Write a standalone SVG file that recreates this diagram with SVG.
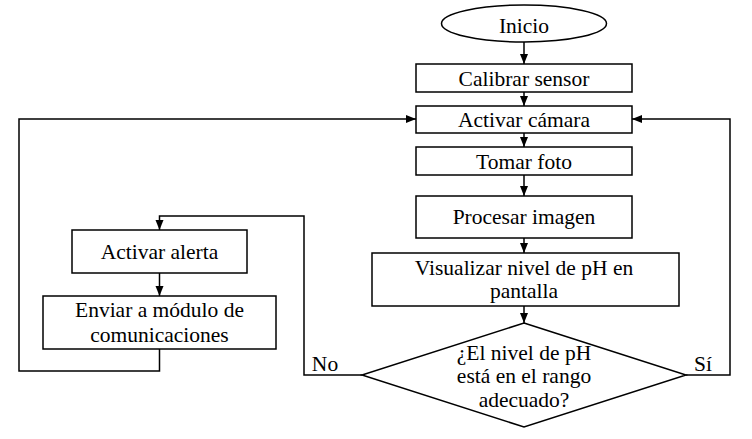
<svg xmlns="http://www.w3.org/2000/svg" width="752" height="439" viewBox="0 0 752 439">
<style>
.n{fill:#fff;stroke:#000;stroke-width:1.5}
.c{fill:none;stroke:#000;stroke-width:1.5}
text{font-family:"Liberation Serif","Times New Roman",serif;font-size:21.5px;fill:#000;text-anchor:middle}
</style>
<defs>
<marker id="ah" viewBox="0 0 10 10" refX="10" refY="5" markerWidth="10" markerHeight="10" markerUnits="userSpaceOnUse" orient="auto">
<path d="M0,1 L10,5 L0,9 Z" fill="#000"/>
</marker>
</defs>
<rect width="752" height="439" fill="#fff"/>
<g id="connectors">
<path class="c" d="M524,42 V64" marker-end="url(#ah)"/>
<path class="c" d="M524,92 V106" marker-end="url(#ah)"/>
<path class="c" d="M524,133 V147" marker-end="url(#ah)"/>
<path class="c" d="M524,175 V196" marker-end="url(#ah)"/>
<path class="c" d="M524,238 V253" marker-end="url(#ah)"/>
<path class="c" d="M524,306 V323" marker-end="url(#ah)"/>
<path class="c" d="M686,375 H730 V119 H632" marker-end="url(#ah)"/>
<path class="c" d="M362,375 H304 V216 H159.5 V230" marker-end="url(#ah)"/>
<path class="c" d="M159.5,273 V296" marker-end="url(#ah)"/>
<path class="c" d="M159.5,349 V371 H19 V119 H416" marker-end="url(#ah)"/>
<text x="325" y="371">No</text>
<text x="703" y="371">Sí</text>
</g>
<g id="inicio">
<ellipse class="n" cx="524" cy="23.5" rx="82.5" ry="18.5"/>
<text x="524" y="33">Inicio</text>
</g>
<g id="calibrar">
<rect class="n" x="416" y="64" width="216" height="28"/>
<text x="524" y="86">Calibrar sensor</text>
</g>
<g id="activar-camara">
<rect class="n" x="416" y="106" width="216" height="27"/>
<text x="524" y="127">Activar cámara</text>
</g>
<g id="tomar-foto">
<rect class="n" x="416" y="147" width="216" height="28"/>
<text x="524" y="169">Tomar foto</text>
</g>
<g id="procesar">
<rect class="n" x="416" y="196" width="216" height="42"/>
<text x="524" y="224">Procesar imagen</text>
</g>
<g id="visualizar">
<rect class="n" x="372" y="253" width="307" height="53"/>
<text x="524" y="275">Visualizar nivel de pH en</text>
<text x="524" y="298">pantalla</text>
</g>
<g id="decision">
<polygon class="n" points="524,323 686,375 524,427 362,375"/>
<text x="524" y="360">¿El nivel de pH</text>
<text x="524" y="383">está en el rango</text>
<text x="524" y="407">adecuado?</text>
</g>
<g id="activar-alerta">
<rect class="n" x="72" y="230" width="175" height="43"/>
<text x="159.5" y="259">Activar alerta</text>
</g>
<g id="enviar">
<rect class="n" x="43" y="296" width="233" height="53"/>
<text x="159.5" y="317">Enviar a módulo de</text>
<text x="159.5" y="342">comunicaciones</text>
</g>
</svg>
